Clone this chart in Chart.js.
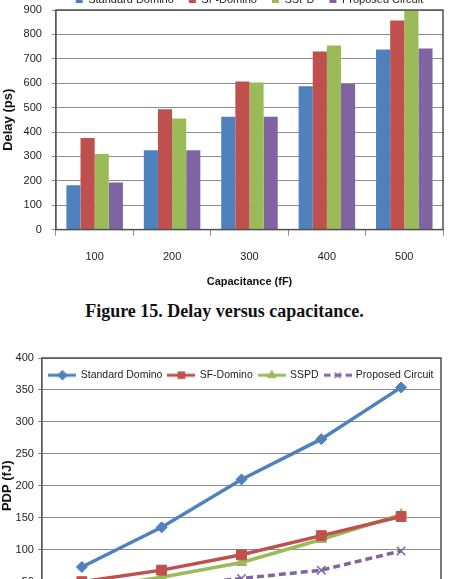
<!DOCTYPE html>
<html>
<head>
<meta charset="utf-8">
<title>Delay and PDP versus capacitance</title>
<script src="https://cdn.jsdelivr.net/npm/chart.js@4.4.1/dist/chart.umd.min.js"></script>
<style>
    html, body { margin: 0; padding: 0; background: #fff; }
    body { width: 449px; height: 579px; overflow: hidden; position: relative; }
    #delayWrap { position: absolute; left: 0; top: -24px; }
    #pdpWrap { position: absolute; left: 0; top: 340px; }
    .caption {
        position: absolute; left: 0; top: 301px; width: 449px;
        text-align: center; line-height: 22px; color: #111;
        font: bold 18px "Liberation Serif", "Times New Roman", serif;
    }
</style>
</head>
<body>
<div id="delayWrap"><canvas id="delayChart" width="449" height="317"></canvas></div>
<div class="caption">Figure 15. Delay versus capacitance.</div>
<div id="pdpWrap"><canvas id="pdpChart" width="449" height="337"></canvas></div>

<script>
// categories (load capacitance, fF)
const capacitance = ['100', '200', '300', '400', '500'];
const seriesNames = ['Standard Domino', 'SF-Domino', 'SSPD', 'Proposed Circuit'];

// Figure 15 - delay (ps)
const delayStandard = [182, 325, 463, 587, 738];
const delaySF = [375, 493, 607, 730, 857];
const delaySSPD = [310, 455, 603, 755, 900];
const delayProposed = [193, 325, 463, 597, 742];
const delayTicks = [0, 100, 200, 300, 400, 500, 600, 700, 800, 900];

// next figure - PDP (fJ)
const pdpStandard = [73, 135, 210, 273, 354];
const pdpSF = [50, 68, 92, 122, 152];
const pdpSSPD = [38, 57, 80, 116, 155];
const pdpProposed = [30, 42, 55, 68, 98];
const pdpTicks = [0, 50, 100, 150, 200, 250, 300, 350, 400];

const colors = ['#4F81BD', '#C0504D', '#9BBB59', '#8064A2'];
const gridColor = '#8c8c8c';
const fontFamily = '"Liberation Sans", Arial, sans-serif';
const tickFont = { family: fontFamily, size: 11 };

// Excel style frame round the plot area
const plotBorder = {
    id: 'plotBorder',
    afterDatasetsDraw(chart) {
        const { ctx, chartArea: a } = chart;
        ctx.save();
        ctx.strokeStyle = '#505050';
        ctx.lineWidth = 1.5;
        ctx.strokeRect(a.left, a.top, a.right - a.left, a.bottom - a.top);
        ctx.restore();
    }
};

// lets the legend sit inside the plot area instead of taking room above it
const legendDrop = 6;
const legendInside = {
    id: 'legendInside',
    beforeLayout(chart) {
        const legend = chart.legend;
        if (legend && !legend._inside) {
            const fit = legend.fit;
            legend.fit = function () {
                fit.call(this);
                this._fullHeight = this.height;
                this.height = 0;
            };
            legend._inside = true;
        }
    },
    afterLayout(chart) {
        // give the height back so the legend is not clipped away when drawn
        const legend = chart.legend;
        legend.top += legendDrop;
        legend.height = legend._fullHeight;
        legend.bottom = legend.top + legend._fullHeight;
    }
};

function valueAxis(ticks, title, titlePadding, tickPadding) {
    return {
        min: ticks[0],
        max: ticks[ticks.length - 1],
        ticks: { stepSize: ticks[1] - ticks[0], color: '#222', font: tickFont, padding: tickPadding },
        grid: { color: gridColor, tickLength: 4, tickColor: gridColor },
        border: { color: gridColor },
        title: { display: true, text: title, color: '#111', font: { family: fontFamily, size: 13, weight: 'bold' }, padding: titlePadding }
    };
}

function categoryAxis() {
    return {
        offset: true,
        ticks: { color: '#222', font: tickFont, padding: 15, maxRotation: 0 },
        grid: { offset: true, drawOnChartArea: false, tickLength: 6, color: gridColor },
        border: { color: gridColor },
        title: { display: true, text: 'Capacitance (fF)', color: '#111', font: { family: fontFamily, size: 11, weight: 'bold' }, padding: { top: -3, bottom: 4 } }
    };
}

// Figure 15: grouped bars
const delaySeries = [delayStandard, delaySF, delaySSPD, delayProposed];
new Chart(document.getElementById('delayChart'), {
    type: 'bar',
    data: {
        labels: capacitance,
        datasets: delaySeries.map((data, i) => ({
            label: seriesNames[i],
            data: data,
            backgroundColor: colors[i],
            borderWidth: 0,
            categoryPercentage: 0.73,
            barPercentage: 1.0
        }))
    },
    options: {
        responsive: false,
        animation: false,
        layout: { padding: { left: 0, right: 6, top: 3, bottom: 0 } },
        plugins: {
            legend: {
                position: 'top',
                fullSize: false,
                maxHeight: 31,
                labels: { boxWidth: 7, boxHeight: 7, padding: 15, color: '#222', font: { family: fontFamily, size: 11 } }
            },
            tooltip: { enabled: false }
        },
        scales: {
            x: categoryAxis(),
            y: valueAxis(delayTicks, 'Delay (ps)', { top: 1, bottom: -3 }, 10)
        }
    },
    plugins: [plotBorder]
});

// legend icon: line with its marker, like the Excel legend
function legendIcon(color, style, dash) {
    const icon = document.createElement('canvas');
    icon.width = 28;
    icon.height = 12;
    const g = icon.getContext('2d');
    g.strokeStyle = color;
    g.fillStyle = color;
    g.lineWidth = 3;
    g.setLineDash(dash);
    g.beginPath();
    g.moveTo(0, 6);
    g.lineTo(28, 6);
    g.stroke();
    g.setLineDash([]);
    g.lineWidth = 1.2;
    Chart.helpers.drawPoint(g, { pointStyle: style, radius: style === 'crossRot' ? 4 : 4.5, borderWidth: 1 }, 14, 6);
    return icon;
}

// PDP: lines with markers
const pdpSeries = [pdpStandard, pdpSF, pdpSSPD, pdpProposed];
const markers = ['rectRot', 'rect', 'triangle', 'crossRot'];
const markerSize = [5.5, 7, 6, 6];
const dashes = [[], [], [], [7, 4]];
const icons = pdpSeries.map((d, i) => legendIcon(colors[i], markers[i], dashes[i]));

new Chart(document.getElementById('pdpChart'), {
    type: 'line',
    data: {
        labels: capacitance,
        datasets: pdpSeries.map((data, i) => ({
            label: seriesNames[i],
            data: data,
            borderColor: colors[i],
            backgroundColor: colors[i],
            borderWidth: 3.5,
            borderDash: dashes[i],
            pointStyle: markers[i],
            pointRadius: markerSize[i],
            pointBorderWidth: i === 3 ? 1.5 : 1,
            tension: 0
        }))
    },
    options: {
        responsive: false,
        animation: false,
        layout: { padding: { left: 0, right: 2, top: 18, bottom: 0 } },
        plugins: {
            legend: {
                position: 'top',
                fullSize: false,
                labels: {
                    usePointStyle: true,
                    pointStyleWidth: 26,
                    padding: 6,
                    color: '#222',
                    font: { family: fontFamily, size: 10.5 },
                    generateLabels(chart) {
                        const items = Chart.defaults.plugins.legend.labels.generateLabels(chart);
                        items.forEach((item, i) => { item.pointStyle = icons[i]; });
                        return items;
                    }
                }
            },
            tooltip: { enabled: false }
        },
        scales: {
            x: categoryAxis(),
            y: valueAxis(pdpTicks, 'PDP (fJ)', { top: 0, bottom: -4 }, 4)
        }
    },
    plugins: [legendInside, plotBorder]
});
</script>
</body>
</html>
